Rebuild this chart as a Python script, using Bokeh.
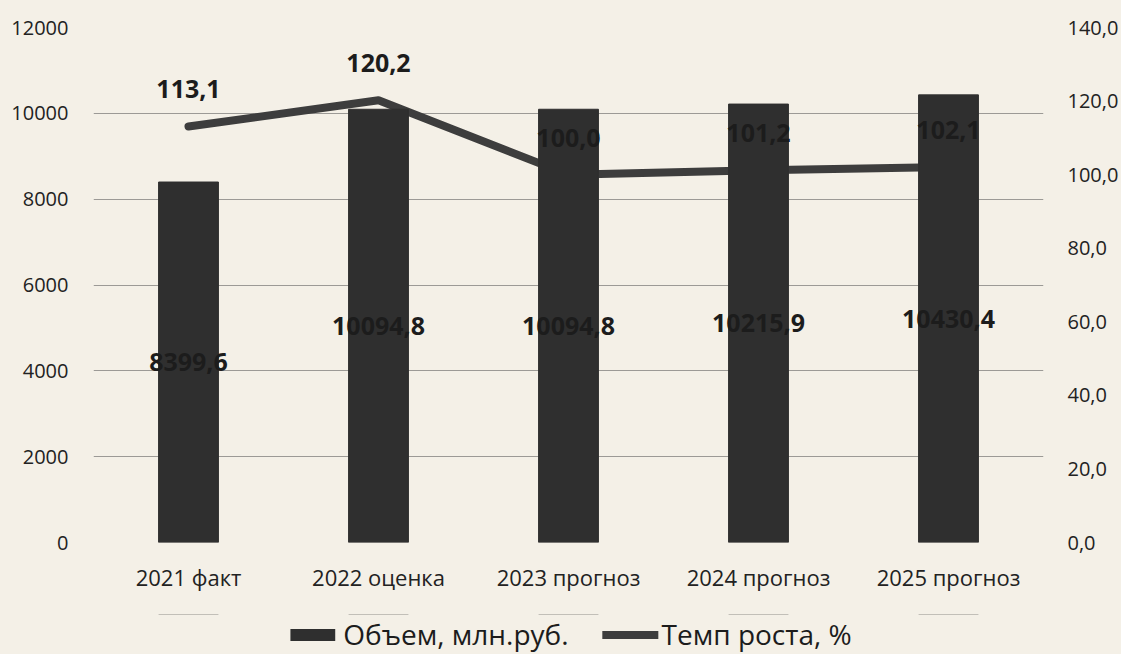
from bokeh.plotting import figure
from bokeh.layouts import column
from bokeh.models import (ColumnDataSource, Range1d, LinearAxis, FixedTicker,
                          LabelSet, Legend, LegendItem, FactorRange)
from bokeh.core.properties import value
from bokeh.embed import file_html
from bokeh.resources import INLINE

# ---- data ----
categories = ["2021 факт", "2022 оценка", "2023 прогноз", "2024 прогноз", "2025 прогноз"]
volume = [8399.6, 10094.8, 10094.8, 10215.9, 10430.4]
volume_labels = ["8399,6", "10094,8", "10094,8", "10215,9", "10430,4"]
rate = [113.1, 120.2, 100.0, 101.2, 102.1]
rate_labels = ["113,1", "120,2", "100,0", "101,2", "102,1"]
left_ticks = [0, 2000, 4000, 6000, 8000, 10000, 12000]
left_tick_labels = ["0", "2000", "4000", "6000", "8000", "10000", "12000"]
right_ticks = [0, 20, 40, 60, 80, 100, 120, 140]
right_tick_labels = ["0,0", "20,0", "40,0", "60,0", "80,0", "100,0", "120,0", "140,0"]
series_names = ["Объем, млн.руб.", "Темп роста, %"]

BG = "#f4f0e7"
FONT = "Open Sans"
BAR_COLOR = "#2f2f2f"
LINE_COLOR = "#3d3d3d"

src = ColumnDataSource(dict(
    cat=categories, vol=volume, vol_mid=[v / 2 for v in volume],
    vol_lbl=volume_labels, rate=rate, rate_lbl=rate_labels))

p = figure(x_range=FactorRange(*categories, range_padding=0),
           y_range=Range1d(0, 12000),
           frame_width=950, frame_height=515,
           min_border_left=93, min_border_top=27, min_border_bottom=72,
           min_border_right=76,
           output_backend="svg", toolbar_location=None)
p.background_fill_color = BG
p.border_fill_color = BG
p.outline_line_color = None
p.extra_y_ranges = {"rate": Range1d(0, 140)}

# axes
p.yaxis.ticker = FixedTicker(ticks=left_ticks)
p.yaxis.major_label_overrides = dict(zip(left_ticks, left_tick_labels))
for ax in [p.yaxis[0], p.xaxis[0]]:
    ax.axis_line_color = None
    ax.major_tick_line_color = None
    ax.minor_tick_line_color = None
    ax.major_tick_out = 0
    ax.major_tick_in = 0
    ax.major_label_text_font = FONT
    ax.major_label_text_color = "#222222"
p.yaxis.major_label_text_font_size = "20px"
p.yaxis.major_label_standoff = 25
p.xaxis.major_label_text_font_size = "22px"
p.xaxis.major_label_standoff = 19

ra = LinearAxis(y_range_name="rate", ticker=FixedTicker(ticks=right_ticks))
ra.major_label_overrides = dict(zip(right_ticks, right_tick_labels))
ra.axis_line_color = None
ra.major_tick_line_color = None
ra.minor_tick_line_color = None
ra.major_tick_out = 0
ra.major_tick_in = 0
ra.major_label_text_font = FONT
ra.major_label_text_font_size = "20px"
ra.major_label_text_color = "#222222"
ra.major_label_standoff = 24
p.add_layout(ra, "right")

p.xgrid.grid_line_color = None
p.ygrid.grid_line_color = "#9c9a96"
p.ygrid.grid_line_width = 1.2

# line (behind bars)
line_r = p.line("cat", "rate", source=src, y_range_name="rate",
                line_color=LINE_COLOR, line_width=8, line_cap="round", line_join="round")
# bars
bar_r = p.vbar(x="cat", top="vol", width=0.315, source=src,
               fill_color=BAR_COLOR, line_color=BAR_COLOR)

# labels
lbl_bar = LabelSet(x="cat", y="vol_mid", text="vol_lbl", source=src,
                   text_font=value(FONT), text_font_style="bold", text_font_size="25px",
                   text_color="#1c1c1c", text_align="center", text_baseline="middle")
lbl_rate = LabelSet(x="cat", y="rate", text="rate_lbl", source=src, y_range_name="rate",
                    y_offset=37,
                    text_font=value(FONT), text_font_style="bold", text_font_size="25px",
                    text_color="#1c1c1c", text_align="center", text_baseline="middle")
p.add_layout(lbl_bar)
p.add_layout(lbl_rate)

# ---- legend strip below the chart ----
# same series drawn against a y range they never reach, so only the legend shows
p2 = figure(x_range=FactorRange(*categories, range_padding=0), y_range=Range1d(-2e6, -1e6),
            frame_width=950, frame_height=40,
            min_border_left=93, min_border_right=76, min_border_top=0, min_border_bottom=0,
            x_axis_location=None, y_axis_location=None,
            output_backend="svg", toolbar_location=None)
p2.background_fill_color = BG
p2.border_fill_color = BG
p2.outline_line_color = None
p2.grid.visible = False
leg_line = p2.line("cat", "rate", source=src, line_color=LINE_COLOR, line_width=8,
                   line_cap="round")
leg_bar = p2.vbar(x="cat", top="vol", width=0.315, source=src,
                  fill_color=BAR_COLOR, line_color=None)

legend = Legend(items=[LegendItem(label=series_names[0], renderers=[leg_bar]),
                       LegendItem(label=series_names[1], renderers=[leg_line])],
                orientation="horizontal", location="center",
                glyph_width=56, glyph_height=15, label_standoff=3, spacing=34,
                padding=0, margin=0,
                label_text_font=FONT, label_text_font_size="28px",
                label_text_color="#1c1c1c",
                background_fill_alpha=0, border_line_color=None)
p2.add_layout(legend)

layout = column(p, p2, spacing=0, styles={"background-color": BG})
open("out.html", "w").write(file_html(layout, INLINE))
